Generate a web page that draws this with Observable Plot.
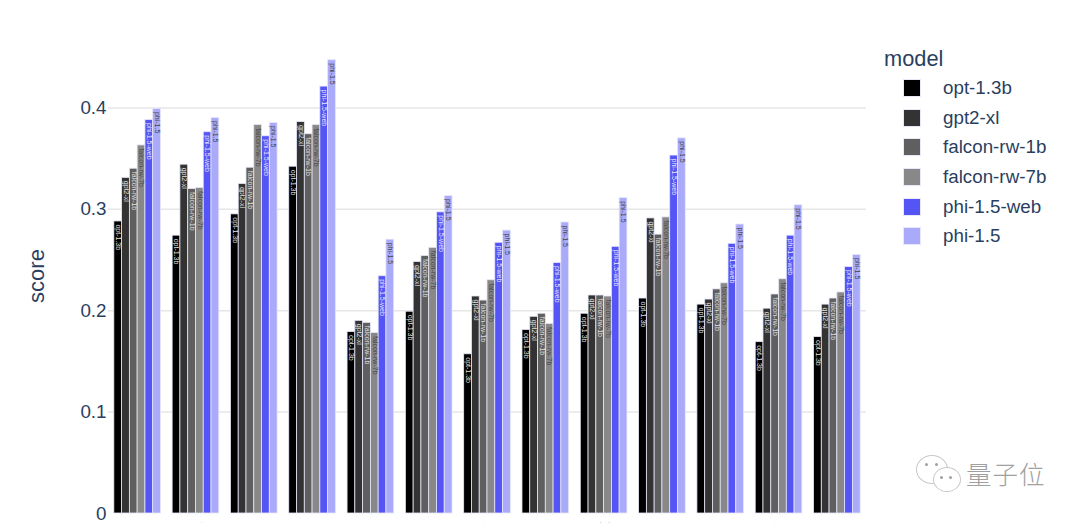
<!DOCTYPE html>
<html>
<head>
<meta charset="utf-8">
<script src="https://cdn.jsdelivr.net/npm/d3@7"></script>
<script src="https://cdn.jsdelivr.net/npm/@observablehq/plot@0.6"></script>
<style>
html,body{margin:0;padding:0;background:#fff;width:1080px;height:523px;overflow:hidden;font-family:"Liberation Sans",sans-serif}
#wrap{position:relative;width:1080px;height:523px;overflow:hidden}
#legend{position:absolute;left:884px;top:46px;color:#2a3f5f}
#legend .t{font-size:21.8px;line-height:25px;margin-bottom:2.5px}
#legend .r{display:flex;align-items:center;height:29.6px;font-size:18.8px;margin-left:19px}
#legend .s{width:18px;height:18px;margin-right:22px;box-sizing:border-box;border:1px solid #e8e8f8}
#mark{position:absolute;left:916px;top:455px;width:135px;height:40px;color:#a0a0a0}
#mark .txt{position:absolute;left:50px;top:3px;font:300 25.5px/30px "Noto Sans CJK SC";letter-spacing:1px;white-space:nowrap}
#mark .b{position:absolute;border:1px solid #c8c8c8;border-radius:50%;background:#fff}
#mark .e{position:absolute;width:3px;height:3px;border-radius:50%;background:#a0a0a0}
</style>
</head>
<body>
<div id="wrap">
<div id="chart"></div>
<div id="legend"></div>
<div id="mark">
  <div class="b" style="left:0;top:0;width:30px;height:27px"></div>
  <div class="e" style="left:9px;top:8px"></div><div class="e" style="left:19px;top:8px"></div>
  <div class="b" style="left:17px;top:12px;width:26px;height:23px"></div>
  <div class="e" style="left:24px;top:21px"></div><div class="e" style="left:33px;top:21px"></div>
  <div class="txt">量子位</div>
</div>
</div>
<script>
const categories = ["asian","black","chinese","jewish","latino","lgbtq","mental_disability","mexican","middle_east","muslim","native_american","physical_disability","women"];
const models = ["opt-1.3b","gpt2-xl","falcon-rw-1b","falcon-rw-7b","phi-1.5-web","phi-1.5"];
const colors = ["#000000","#333333","#5f5f5f","#888888","#5555f6","#aaaafa"];
const labelColors = ["#e0e0e0","#e0e0e0","#e0e0e0","#444444","#e8e8ff","#444444"];
const yTicks = [0,0.1,0.2,0.3,0.4];

const opt13b   = [0.288,0.274,0.295,0.342,0.179,0.199,0.157,0.181,0.197,0.212,0.206,0.169,0.174];
const gpt2xl   = [0.331,0.344,0.325,0.386,0.190,0.248,0.214,0.194,0.215,0.291,0.211,0.202,0.206];
const falcon1b = [0.340,0.320,0.341,0.374,0.188,0.254,0.210,0.197,0.215,0.275,0.221,0.216,0.212];
const falcon7b = [0.363,0.321,0.383,0.383,0.178,0.262,0.230,0.187,0.214,0.292,0.227,0.231,0.218];
const phiWeb   = [0.388,0.376,0.372,0.421,0.234,0.297,0.267,0.247,0.263,0.353,0.266,0.274,0.243];
const phi15    = [0.399,0.390,0.385,0.447,0.270,0.313,0.279,0.287,0.311,0.370,0.285,0.304,0.255];
const series = [opt13b,gpt2xl,falcon1b,falcon7b,phiWeb,phi15];

// x is measured in bar widths: six bars per group, 1.5 bar widths of gap between groups
const barsPerGroup = models.length + 1.5;
const rows = series.flatMap((vals,m)=>vals.map((score,c)=>({
  category:categories[c],model:models[m],score,
  x1:c*barsPerGroup+m, x2:c*barsPerGroup+m+1, xm:c*barsPerGroup+m+0.5
})));
const groupCenters = categories.map((_,c)=>c*barsPerGroup+models.length/2);
const labelFill = d => labelColors[models.indexOf(d.model)];
const ink = "#2a3f5f";

const plot = Plot.plot({
  width:1080,height:523,
  marginLeft:108,marginRight:214,marginTop:0,marginBottom:10,
  style:{fontFamily:"'Liberation Sans',sans-serif",background:"transparent"},
  x:{domain:[-0.75,categories.length*barsPerGroup-0.75]},
  y:{domain:[0,513/1014]},
  color:{domain:models,range:colors},
  marks:[
    Plot.ruleY(yTicks.slice(1),{stroke:"#e6e6e6",strokeWidth:1.5}),
    Plot.axisY({ticks:yTicks,tickSize:0,tickPadding:2,fontSize:18.8,fill:ink,label:null,tickFormat:d=>String(d)}),
    Plot.axisX({ticks:groupCenters,tickFormat:d=>categories[groupCenters.indexOf(d)],tickRotate:-90,tickSize:0,tickPadding:9,fontSize:18.8,fill:ink,label:null}),
    Plot.rectY(rows,{x1:"x1",x2:"x2",y:"score",fill:"model",stroke:"#e6e6f8",strokeWidth:0.8}),
    Plot.text(rows,{x:"xm",y:"score",text:"model",rotate:90,textAnchor:"start",dy:3,fontSize:7,fill:labelFill}),
    Plot.text(["score"],{frameAnchor:"left",textAnchor:"middle",rotate:-90,dx:-72,dy:19,fontSize:22,fill:ink})
  ]
});
document.getElementById("chart").appendChild(plot);

const lg = document.getElementById("legend");
lg.innerHTML = '<div class="t">model</div>' + models.map((m,i)=>
  `<div class="r"><span class="s" style="background:${colors[i]}"></span><span>${m}</span></div>`).join("");
</script>
</body>
</html>
